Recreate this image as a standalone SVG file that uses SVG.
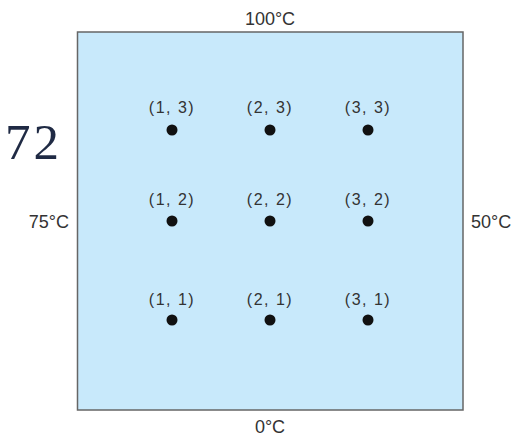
<svg xmlns="http://www.w3.org/2000/svg" width="521" height="437" viewBox="0 0 521 437">
<style>
.lbl{font-family:"Liberation Sans",Arial,sans-serif;font-size:16px;fill:#333;text-anchor:middle;letter-spacing:1.5px}
.tmp{font-family:"Liberation Sans",Arial,sans-serif;font-size:18px;fill:#333}
.dot{fill:#111}
</style>
<rect width="521" height="437" fill="#fff"/>
<text x="5" y="159" font-family="'Liberation Serif','DejaVu Serif',serif" font-size="51" letter-spacing="3" fill="#1f2a44">72</text>
<g id="plate">
<rect x="77.5" y="32" width="385.5" height="378" fill="#c8e9fb" stroke="#666" stroke-width="1.5"/>
</g>
<g id="boundaries">
<text class="tmp" x="270" y="25" text-anchor="middle">100°C</text>
<text class="tmp" x="69" y="228" text-anchor="end">75°C</text>
<text class="tmp" x="471" y="228">50°C</text>
<text class="tmp" x="270" y="433" text-anchor="middle">0°C</text>
</g>
<g id="n13"><text class="lbl" x="172" y="113">(1, 3)</text><circle class="dot" cx="172" cy="130" r="5.5"/></g>
<g id="n23"><text class="lbl" x="270" y="113">(2, 3)</text><circle class="dot" cx="270" cy="130" r="5.5"/></g>
<g id="n33"><text class="lbl" x="368" y="113">(3, 3)</text><circle class="dot" cx="368" cy="130" r="5.5"/></g>
<g id="n12"><text class="lbl" x="172" y="205">(1, 2)</text><circle class="dot" cx="172" cy="221" r="5.5"/></g>
<g id="n22"><text class="lbl" x="270" y="205">(2, 2)</text><circle class="dot" cx="270" cy="221" r="5.5"/></g>
<g id="n32"><text class="lbl" x="368" y="205">(3, 2)</text><circle class="dot" cx="368" cy="221" r="5.5"/></g>
<g id="n11"><text class="lbl" x="172" y="305">(1, 1)</text><circle class="dot" cx="172" cy="320" r="5.5"/></g>
<g id="n21"><text class="lbl" x="270" y="305">(2, 1)</text><circle class="dot" cx="270" cy="320" r="5.5"/></g>
<g id="n31"><text class="lbl" x="368" y="305">(3, 1)</text><circle class="dot" cx="368" cy="320" r="5.5"/></g>
<g id="connectors"></g>
</svg>
